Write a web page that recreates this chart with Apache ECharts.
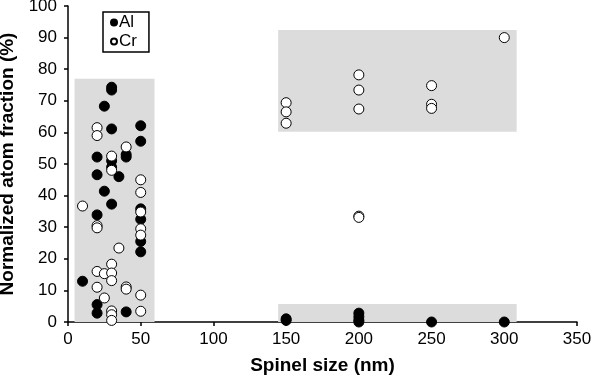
<!DOCTYPE html>
<html>
<head>
<meta charset="utf-8">
<script src="https://cdn.jsdelivr.net/npm/echarts@6/dist/echarts.min.js"></script>
<style>
  html, body { margin: 0; padding: 0; background: #fff; }
  #chart { width: 600px; height: 380px; }
</style>
</head>
<body>
<div id="chart"></div>
<script>
// spinel size (nm) vs normalized atom fraction (%)
var alPoints = [
  [10, 12.9], [20, 52.2], [20, 46.6], [20, 33.9], [20, 5.5], [20, 2.8],
  [25, 68.3], [25, 41.4], [30, 74.3], [30, 73.4], [30, 61.1], [30, 51],
  [30, 49], [30, 37.3], [35, 46], [40, 53], [40, 52.2], [40, 3.2],
  [50, 62.1], [50, 57.2], [50, 35.8], [50, 32.5], [50, 25.5], [50, 22.2],
  [150, 0.5], [150, 1], [200, 2.8], [200, 1.7], [200, 0.6], [200, 0],
  [250, 0], [300, 0]
]
var crPoints = [
  [10, 36.7], [20, 61.5], [20, 59], [20, 30.5], [20, 29.8], [20, 16], [20, 11],
  [25, 15.3], [25, 7.6], [30, 52.5], [30, 48], [30, 18.3], [30, 15.5],
  [30, 13.1], [30, 3.5], [30, 2.3], [30, 0.5], [35, 23.4], [40, 55.4],
  [40, 11.1], [40, 10.4], [50, 45], [50, 41], [50, 34.8], [50, 29.5],
  [50, 27.5], [50, 8.5], [50, 3.4],
  [150, 69.4], [150, 66.5], [150, 62.9], [200, 78.2], [200, 73.4], [200, 67.4],
  [200, 33.5], [200, 33.1], [250, 74.8], [250, 68.9], [250, 67.6], [300, 90]
]
// shaded groups: [xFrom, yFrom, xTo, yTo]
var shadedBoxes = [
  [4.5, 0, 59.5, 77],
  [144.5, 60.2, 308.5, 92.4],
  [144.5, 0, 308.5, 5.7]
]
var xTicks = [0, 50, 100, 150, 200, 250, 300, 350]

var chart = echarts.init(document.getElementById('chart'))
var font = 'Liberation Sans, Arial, sans-serif'
var option = {
  animation: false,
  textStyle: { fontFamily: font },
  grid: { left: 68, right: 23, top: 6, bottom: 58, containLabel: false, outerBoundsMode: 'none' },
  legend: {
    orient: 'vertical',
    left: 103,
    top: 12,
    padding: [2, 12, 2, 7],
    itemGap: 2,
    itemWidth: 6,
    itemHeight: 6,
    borderColor: '#000',
    borderWidth: 1.5,
    textStyle: { fontSize: 17, color: '#000', padding: [0, 0, 0, -3] },
    data: [{ name: 'Al', icon: 'circle' }, { name: 'Cr', icon: 'circle' }]
  },
  xAxis: {
    type: 'value',
    min: xTicks[0],
    max: xTicks[xTicks.length - 1],
    interval: 50,
    name: 'Spinel size (nm)',
    nameLocation: 'middle',
    nameGap: 34,
    nameTextStyle: { fontSize: 19, fontWeight: 'bold', color: '#000' },
    axisLine: { lineStyle: { color: '#000', width: 1.5 } },
    axisTick: { show: true, length: 4, lineStyle: { color: '#000', width: 1.5 } },
    axisLabel: { fontSize: 17, color: '#000', margin: 9 },
    splitLine: { show: false }
  },
  yAxis: {
    type: 'value',
    min: 0,
    max: 100,
    interval: 10,
    name: 'Normalized atom fraction (%)',
    nameLocation: 'middle',
    nameGap: 42,
    nameTextStyle: { fontSize: 19, fontWeight: 'bold', color: '#000' },
    axisLine: { show: true, lineStyle: { color: '#000', width: 1.5 } },
    axisTick: { show: true, length: 4, lineStyle: { color: '#000', width: 1.5 } },
    axisLabel: { fontSize: 17, color: '#000', margin: 11 },
    splitLine: { show: false }
  },
  series: [
    {
      name: 'Al',
      type: 'scatter',
      symbolSize: 10,
      z: 3,
      itemStyle: { color: '#000', borderColor: '#000', borderWidth: 1, opacity: 1 },
      data: alPoints,
      markArea: {
        silent: true,
        itemStyle: { color: '#dcdcdc' },
        data: shadedBoxes.map(function (b) {
          return [{ coord: [b[0], b[1]] }, { coord: [b[2], b[3]] }]
        })
      }
    },
    {
      name: 'Cr',
      type: 'scatter',
      symbolSize: 10,
      z: 4,
      itemStyle: { color: '#fff', borderColor: '#000', borderWidth: 1, opacity: 1 },
      data: crPoints
    }
  ]
}
chart.setOption(option)
</script>
</body>
</html>
